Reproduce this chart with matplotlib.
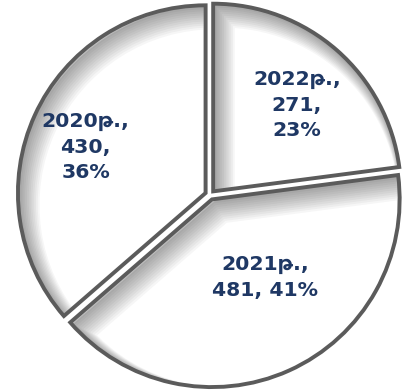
import matplotlib
matplotlib.use("Agg")
import matplotlib.pyplot as plt
import matplotlib.patches as mpatches
from matplotlib.transforms import ScaledTranslation

labels = ["2022թ.", "2021թ.", "2020թ."]
values = [271, 481, 430]
percents = ["23%", "41%", "36%"]
label_texts = ["2022թ.,\n271,\n23%", "2021թ.,\n481, 41%", "2020թ.,\n430,\n36%"]

fig = plt.figure(figsize=(4.04, 3.92), dpi=100)
ax = fig.add_axes([0, 0, 1, 1])

edge = "#5b5b5b"
wedges, _ = ax.pie(values, startangle=90, counterclock=False,
                   explode=[0.025, 0.025, 0.025], radius=0.975,
                   colors=["white"] * 3,
                   wedgeprops=dict(edgecolor="none", linewidth=0))

px = 72.0 / fig.dpi  # points per pixel
# soft inner shadow: outline shifted down/right, clipped to the wedge
for w in wedges:
    for d in range(1, 13):
        off = ScaledTranslation(0.8 * d / fig.dpi, -d / fig.dpi, fig.dpi_scale_trans)
        p = mpatches.PathPatch(w.get_path(), transform=w.get_transform() + off,
                               fill=False, edgecolor="black", lw=2 * d * px,
                               alpha=0.035, zorder=2)
        ax.add_patch(p)
        p.set_clip_path(w)
    e = mpatches.PathPatch(w.get_path(), transform=w.get_transform(),
                           fill=False, edgecolor=edge, lw=2.8, zorder=3,
                           joinstyle="miter")
    ax.add_patch(e)

# label positions (axes fraction)
pos = [(0.735, 0.732), (0.656, 0.293), (0.212, 0.625)]
for (x, y), t in zip(pos, label_texts):
    ax.text(x, y, t, transform=ax.transAxes, ha="center", va="center",
            fontsize=14.7, fontweight="bold", color="#1f3864",
            linespacing=1.45, family=["DejaVu Sans", "Noto Sans"], zorder=4)

s = 192.5
ax.set_xlim(-210 / s, (404 - 210) / s)
ax.set_ylim(-(392 - 195) / s, 195 / s)
ax.set_aspect("equal", adjustable="box")
ax.axis("off")
fig.savefig("out.png", dpi=100)
